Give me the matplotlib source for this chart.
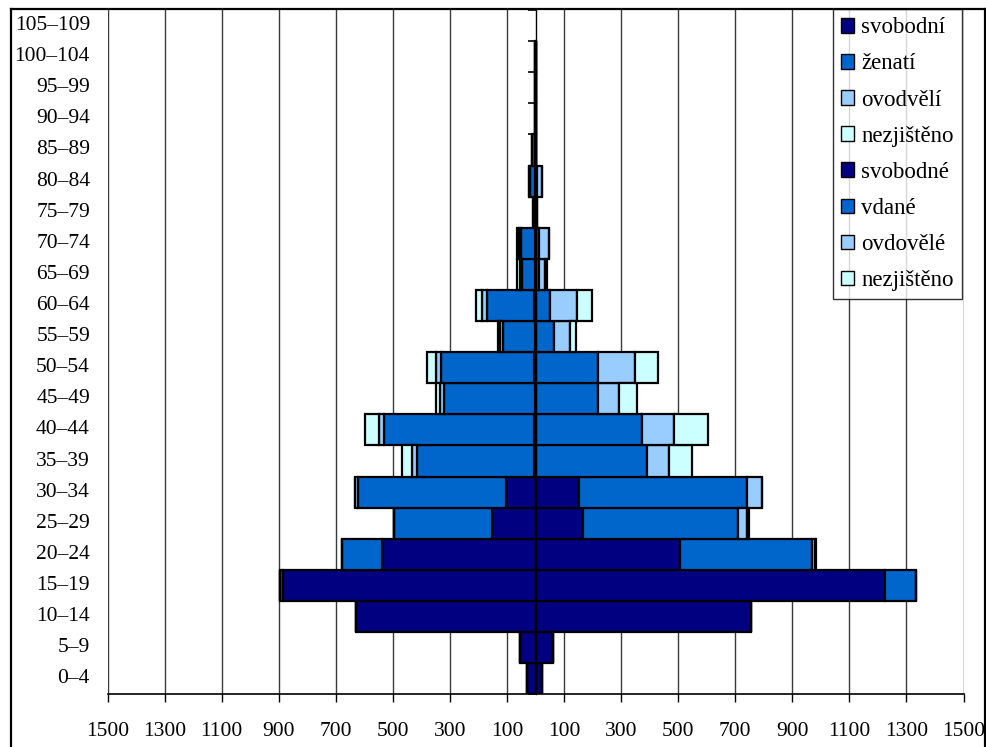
import numpy as np
import matplotlib
matplotlib.use("Agg")
import matplotlib.pyplot as plt
from matplotlib.patches import Patch
from matplotlib.lines import Line2D
import matplotlib.transforms as mtransforms

plt.rcParams['font.family'] = ['Liberation Serif', 'DejaVu Serif']

# ---------------- data ----------------
age_groups = ["0–4", "5–9", "10–14", "15–19", "20–24", "25–29", "30–34", "35–39",
              "40–44", "45–49", "50–54", "55–59", "60–64", "65–69", "70–74", "75–79",
              "80–84", "85–89", "90–94", "95–99", "100–104", "105–109"]

nan = np.nan
# males (left side)
m_svobodni   = [29, 54, 630, 886, 537, 151, 103, 4, 5, 3, 5, 3, 5, 2, 2, 2, 2, 2, 2, 2, 2, nan]
m_zenati     = [0, 0, 0, 11, 142, 344, 518, 412, 525, 318, 326, 110, 165, 44, 48, 5, 16, 10, 0, 0, 0, nan]
m_ovdoveli   = [0, 0, 0, 0, 0, 2, 13, 17, 20, 12, 18, 10, 17, 8, 7, 3, 4, 0, 0, 0, 0, nan]
m_nezjisteno = [0, 0, 0, 0, 0, 0, 0, 36, 49, 14, 30, 10, 21, 12, 7, 0, 0, 0, 0, 0, 0, nan]
# females (right side)
f_svobodne   = [23, 60, 755, 1225, 506, 165, 154, 3, 3, 3, 3, 3, 3, 2, 2, 2, 1, 2, 2, 2, 2, nan]
f_vdane      = [0, 0, 0, 108, 464, 544, 587, 389, 371, 217, 217, 62, 48, 10, 12, 2, 3, 0, 0, 0, 0, nan]
f_ovdovele   = [0, 0, 0, 0, 10, 31, 52, 76, 112, 73, 129, 56, 93, 20, 33, 3, 18, 0, 0, 0, 0, nan]
f_nezjisteno = [0, 0, 0, 0, 2, 7, 0, 79, 117, 62, 81, 20, 53, 9, 0, 0, 0, 0, 0, 0, 0, nan]

male_series = [("svobodní", m_svobodni), ("ženatí", m_zenati),
               ("ovodvělí", m_ovdoveli), ("nezjištěno", m_nezjisteno)]
female_series = [("svobodné", f_svobodne), ("vdané", f_vdane),
                 ("ovdovělé", f_ovdovele), ("nezjištěno", f_nezjisteno)]
colors = ["#000080", "#0066CC", "#99CCFF", "#CCFFFF"]

xticks = [-1500, -1300, -1100, -900, -700, -500, -300, -100,
          100, 300, 500, 700, 900, 1100, 1300, 1500]

# ---------------- figure ----------------
W, H = 986, 747
fig = plt.figure(figsize=(W / 100, H / 100), dpi=100)
ax_left, ax_right, ax_top, ax_bottom = 107.5, 963.5, 10.0, 694.3
ax = fig.add_axes([ax_left / W, 1 - ax_bottom / H,
                   (ax_right - ax_left) / W, (ax_bottom - ax_top) / H])

y = np.arange(len(age_groups))
edge_lw = 1.6

def stack(series, sign):
    cum = np.zeros(len(y))
    for (name, vals), col in zip(series, colors):
        v = np.array(vals, dtype=float)
        ok = np.isfinite(v)
        ax.barh(y[ok], sign * v[ok], left=sign * cum[ok], height=1.0,
                color=col, edgecolor="black", linewidth=edge_lw, zorder=2)
        cum = cum + np.nan_to_num(v)

stack(male_series, -1)
stack(female_series, 1)

ax.set_xlim(-1500, 1500)
ax.set_ylim(-0.5, len(age_groups) - 0.5)
ax.set_axisbelow(True)

# vertical gridlines
ax.set_xticks(xticks)
ax.set_xticklabels([str(abs(t)) for t in xticks], fontsize=15.5)
ax.grid(axis="x", color="#3a3a3a", linewidth=1.0)
ax.tick_params(axis="x", direction="out", length=6, width=1.0, pad=14, colors="black")

# vertical (category) axis at zero
ax.spines["left"].set_position(("data", 0))
ax.spines["left"].set_linewidth(1.0)
ax.set_yticks(np.arange(-0.5, len(age_groups), 1.0))
ax.set_yticklabels([])
ax.tick_params(axis="y", direction="out", length=6, width=1.2)
for s in ["top", "right"]:
    ax.spines[s].set_visible(False)
ax.spines["bottom"].set_linewidth(1.2)

# category labels on the far left
trans = mtransforms.blended_transform_factory(ax.transAxes, ax.transData)
for yi, lab in zip(y, age_groups):
    ax.text(-17.5 / (ax_right - ax_left), yi, lab, transform=trans,
            ha="right", va="center", fontsize=15.5)

# legend
handles = [Patch(facecolor=c, edgecolor="black", linewidth=1.0) for c in colors] * 2
labels = [n for n, _ in male_series] + [n for n, _ in female_series]
leg = ax.legend(handles, labels, loc="upper right",
                bbox_to_anchor=((961.7 - ax_left) / (ax_right - ax_left), 1.001),
                fontsize=16.5, frameon=True, fancybox=False, shadow=False,
                handlelength=0.6, handleheight=0.6, handletextpad=0.3,
                labelspacing=0.66, borderpad=0.35, borderaxespad=0.0)
leg.get_frame().set_edgecolor("black")
leg.get_frame().set_linewidth(1.0)

# outer chart border
fx = lambda px: px / W
fy = lambda py: 1 - py / H
for xs, ys in [([11, 11], [9.3, H + 5]), ([11, 985], [9.3, 9.3]), ([985, 985], [9.3, H + 5])]:
    fig.add_artist(Line2D([fx(a) for a in xs], [fy(b) for b in ys],
                          color="black", linewidth=1.6))

fig.savefig("out.png", dpi=100)
